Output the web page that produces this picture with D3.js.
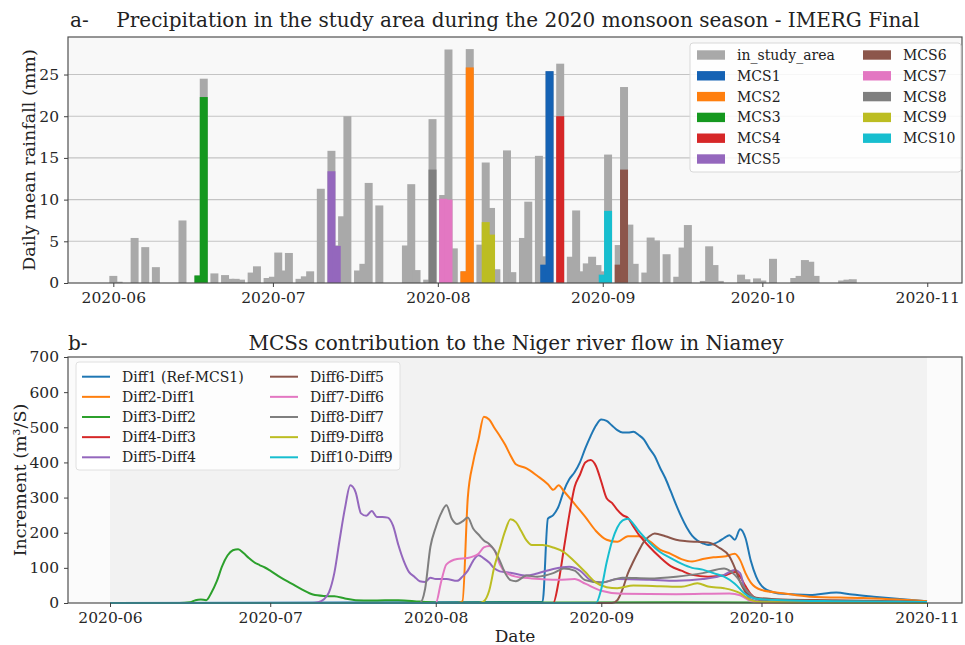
<!DOCTYPE html>
<html>
<meta charset="utf-8" />
<script src="https://d3js.org/d3.v7.min.js"></script>
<body style="margin:0;background:#fff">
<div id="chart"></div>
<script>
// daily mean rainfall in the study area (mm), one value per day from the 1st of the month
var junRain = [0.85, 0.15, 0, 0, 5.4, 0, 4.3, 0, 1.9, 0, 0, 0, 0, 7.5, 0, 0, 0.9, 24.5, 0, 1.15,
               0, 0.95, 0.5, 0.5, 0.4, 0, 1.25, 2.0, 0, 0.6];
var julRain = [0.75, 3.65, 1.5, 3.6, 0, 0.5, 0.8, 1.4, 0, 11.3, 0, 15.85, 4.5, 8.0, 20.0, 0, 1.5, 2.3, 12.0, 0,
               9.3, 0, 0, 0, 0, 4.5, 11.85, 1.55, 0, 0.4, 19.65];
var augRain = [0, 10.55, 28.0, 4.15, 0, 1.4, 28.05, 0, 4.6, 14.45, 9.0, 1.65, 0, 15.9, 1.3, 0, 5.4, 9.75, 0, 15.25,
               3.2, 25.4, 0, 26.3, 0, 3.15, 8.7, 1.4, 2.35, 3.15, 2.15];
var sepRain = [1.4, 15.4, 0, 4.55, 23.5, 7.0, 2.3, 0, 1.25, 5.45, 5.1, 0, 3.45, 0, 0.75, 4.25, 6.95, 0, 0, 0.25,
               4.4, 2.15, 0.25, 0, 0, 0, 1.0, 0.45, 0, 0.55];
var octRain = [0.3, 0, 2.9, 0, 0, 0, 0.6, 0.85, 2.75, 2.55, 0.85, 0, 0, 0, 0, 0.3, 0.4, 0.45, 0, 0,
               0, 0, 0, 0, 0, 0, 0, 0, 0, 0, 0];

// rainfall of each MCS (mm)
var mcs1Rain = [["08-21", 2.2], ["08-22", 25.4]];
var mcs2Rain = [["08-06", 1.4], ["08-07", 25.85]];
var mcs3Rain = [["06-17", 0.9], ["06-18", 22.3]];
var mcs4Rain = [["08-24", 20.0]];
var mcs5Rain = [["07-12", 13.4], ["07-13", 4.45]];
var mcs6Rain = [["09-04", 2.2], ["09-05", 13.6]];
var mcs7Rain = [["08-02", 10.1], ["08-03", 10.0]];
var mcs8Rain = [["07-31", 13.6]];
var mcs9Rain = [["08-10", 7.3], ["08-11", 5.8]];
var mcs10Rain = [["09-01", 1.0], ["09-02", 8.65]];
var mcsNames = ["MCS1", "MCS2", "MCS3", "MCS4", "MCS5", "MCS6", "MCS7", "MCS8", "MCS9", "MCS10"];

// river flow increments at Niamey (m3/s)
var diff1Flow = [["06-01",0],["08-21",3],["08-22",240],["08-23",250],["08-24",275],["08-25",320],["08-26",352],["08-27",372],
  ["08-28",400],["08-29",440],["08-30",475],["08-31",505],["09-01",522],["09-02",518],["09-03",505],["09-04",492],["09-05",485],
  ["09-06",485],["09-07",487],["09-08",478],["09-09",465],["09-10",440],["09-11",418],["09-12",385],["09-13",355],["09-14",318],
  ["09-15",280],["09-16",245],["09-17",215],["09-18",192],["09-19",178],["09-20",170],["09-21",165],["09-22",168],["09-23",175],
  ["09-24",185],["09-25",193],["09-26",180],["09-27",210],["09-28",185],["09-29",120],["09-30",75],["10-02",37],["10-05",26],
  ["10-10",23],["10-15",30],["10-18",24],["10-22",18],["10-28",10],["11-01",5]];
var diff2Flow = [["06-01",0],["08-05",0],["08-06",5],["08-07",300],["08-08",400],["08-09",465],["08-10",530],["08-11",522],
  ["08-12",498],["08-13",475],["08-14",450],["08-15",420],["08-16",395],["08-18",383],["08-20",362],["08-22",338],["08-23",322],
  ["08-24",335],["08-25",318],["08-27",282],["08-29",245],["08-31",205],["09-02",180],["09-04",174],["09-06",190],["09-08",190],
  ["09-10",176],["09-12",152],["09-14",140],["09-16",125],["09-18",118],["09-20",125],["09-22",130],["09-24",132],["09-26",140],
  ["09-27",122],["09-28",85],["09-29",58],["10-01",37],["10-05",28],["10-10",18],["10-20",14],["11-01",5]];
var diff3Flow = [["06-01",0],["06-14",0],["06-16",2],["06-17",8],["06-18",10],["06-19",8],["06-20",30],["06-21",62],["06-22",105],
  ["06-23",135],["06-24",150],["06-25",153],["06-26",142],["06-27",128],["06-28",116],["06-29",108],["06-30",101],["07-01",92],
  ["07-03",72],["07-05",55],["07-07",38],["07-09",24],["07-11",20],["07-13",19],["07-15",13],["07-17",8],["07-20",7],["07-25",8],
  ["07-29",4],["08-02",1],["09-15",2],["11-01",1]];
var diff4Flow = [["06-01",0],["08-23",0],["08-24",60],["08-25",155],["08-26",250],["08-27",330],["08-28",365],["08-29",400],
  ["08-30",407],["08-31",390],["09-01",345],["09-02",298],["09-03",285],["09-04",265],["09-05",250],["09-06",242],["09-07",218],
  ["09-08",195],["09-09",177],["09-10",160],["09-12",130],["09-14",105],["09-16",92],["09-18",80],["09-21",75],["09-24",78],
  ["09-26",88],["09-27",75],["09-28",48],["09-29",25],["10-01",8],["10-05",2],["11-01",1]];
var diff5Flow = [["06-01",0],["07-09",0],["07-10",2],["07-11",10],["07-12",30],["07-13",85],["07-14",180],["07-15",270],
  ["07-16",335],["07-17",315],["07-18",255],["07-19",248],["07-20",262],["07-21",245],["07-22",245],["07-23",243],["07-24",220],
  ["07-25",165],["07-26",120],["07-27",88],["07-28",75],["07-29",62],["07-30",60],["07-31",72],["08-01",68],["08-03",68],
  ["08-05",63],["08-06",75],["08-07",92],["08-08",120],["08-09",136],["08-10",127],["08-11",115],["08-12",98],["08-13",90],
  ["08-15",86],["08-18",78],["08-20",84],["08-23",97],["08-26",103],["08-28",92],["08-30",65],["09-01",58],["09-04",68],
  ["09-10",66],["09-15",63],["09-20",68],["09-24",80],["09-26",94],["09-27",85],["09-28",30],["09-29",10],["10-01",3],
  ["10-05",1],["11-01",0]];
var diff6Flow = [["06-01",0],["09-03",0],["09-04",8],["09-05",40],["09-06",85],["09-07",118],["09-08",148],["09-09",175],
  ["09-10",190],["09-11",198],["09-13",190],["09-15",180],["09-17",176],["09-19",174],["09-21",172],["09-23",158],["09-25",132],
  ["09-26",100],["09-27",60],["09-28",32],["09-30",15],["10-05",10],["10-15",8],["11-01",3]];
var diff7Flow = [["06-01",0],["08-01",0],["08-02",60],["08-03",110],["08-05",125],["08-07",128],["08-09",140],["08-10",158],
  ["08-11",162],["08-12",150],["08-13",110],["08-14",88],["08-16",75],["08-19",70],["08-24",66],["08-27",68],["08-29",55],
  ["09-01",35],["09-05",26],["09-15",25],["09-25",27],["09-27",22],["09-29",5],["10-01",0],["11-01",0]];
var diff8Flow = [["06-01",0],["07-29",0],["07-30",40],["07-31",160],["08-01",215],["08-02",255],["08-03",278],["08-04",240],
  ["08-05",225],["08-06",232],["08-07",243],["08-08",212],["08-09",195],["08-10",178],["08-11",168],["08-12",150],["08-13",120],
  ["08-14",85],["08-15",65],["08-16",62],["08-18",78],["08-20",75],["08-23",85],["08-25",98],["08-27",92],["08-29",65],
  ["09-01",58],["09-05",72],["09-10",70],["09-15",75],["09-20",85],["09-24",98],["09-26",80],["09-28",40],["09-30",12],
  ["10-03",3],["10-10",0],["11-01",0]];
var diff9Flow = [["06-01",0],["08-09",0],["08-10",5],["08-11",35],["08-12",105],["08-13",155],["08-14",205],["08-15",238],
  ["08-16",230],["08-17",205],["08-18",178],["08-19",165],["08-21",165],["08-23",158],["08-25",145],["08-27",118],["08-29",88],
  ["08-31",58],["09-02",45],["09-04",42],["09-07",50],["09-12",48],["09-16",46],["09-19",56],["09-21",47],["09-24",42],
  ["09-27",28],["09-29",8],["10-01",2],["11-01",0]];
var diff10Flow = [["06-01",0],["08-31",0],["09-01",40],["09-02",115],["09-03",175],["09-04",215],["09-05",235],["09-06",240],
  ["09-07",225],["09-08",205],["09-09",188],["09-10",172],["09-12",145],["09-14",128],["09-16",112],["09-18",100],["09-20",95],
  ["09-22",85],["09-24",75],["09-26",55],["09-28",25],["09-30",12],["10-05",8],["10-15",5],["11-01",3]];
var diffNames = ["Diff1 (Ref-MCS1)", "Diff2-Diff1", "Diff3-Diff2", "Diff4-Diff3", "Diff5-Diff4",
                 "Diff6-Diff5", "Diff7-Diff6", "Diff8-Diff7", "Diff9-Diff8", "Diff10-Diff9"];

var monthTicks = ["2020-06-01", "2020-07-01", "2020-08-01", "2020-09-01", "2020-10-01", "2020-11-01"];
var rainTicks = [0, 5, 10, 15, 20, 25];
var flowTicks = [0, 100, 200, 300, 400, 500, 600, 700];

var barColors = ["#1562b4", "#ff7f0e", "#15981f", "#d62728", "#9467bd", "#8c564b", "#e377c2", "#7f7f7f", "#bcbd22", "#17becf"];
var lineColors = ["#1f77b4", "#ff7f0e", "#2ca02c", "#d62728", "#9467bd", "#8c564b", "#e377c2", "#7f7f7f", "#bcbd22", "#17becf"];
var FONT = "DejaVu Serif";

var parse = d3.utcParse("%Y-%m-%d");
function md(s) { return parse("2020-" + s); }
var june1 = Date.UTC(2020, 5, 1);
function dayOff(n) { return new Date(june1 + n * 864e5); }

var svg = d3.select("#chart").append("svg")
  .attr("width", 965).attr("height", 645)
  .style("font-family", FONT);

// ---------- panel a ----------
var A = {left: 68, right: 962, top: 37, bottom: 283};
var xa = d3.scaleUtc().domain([dayOff(-8.52), dayOff(159.53)]).range([A.left, A.right]);
var ya = d3.scaleLinear().domain([0, 29.5]).range([A.bottom, A.top]);

svg.append("rect").attr("x", A.left).attr("y", A.top)
  .attr("width", A.right - A.left).attr("height", A.bottom - A.top).attr("fill", "#f8f8f8");

svg.append("g").selectAll("line").data(rainTicks.slice(1)).enter().append("line")
  .attr("x1", A.left).attr("x2", A.right)
  .attr("y1", function(d) { return ya(d); }).attr("y2", function(d) { return ya(d); })
  .attr("stroke", "#c4c4c4").attr("stroke-width", 1.1);

var rain = [];
[junRain, julRain, augRain, sepRain, octRain].forEach(function(arr, m) {
  arr.forEach(function(v, i) { rain.push({date: new Date(Date.UTC(2020, 5 + m, i + 1)), value: v}); });
});
var halfDay = 0.75 * 864e5;
function barX(d) { return xa(new Date(+d.date - halfDay)); }
function barW(d) { return xa(new Date(+d.date + halfDay)) - xa(new Date(+d.date - halfDay)); }

svg.append("g").selectAll("rect").data(rain.filter(function(d) { return d.value > 0; })).enter().append("rect")
  .attr("x", barX).attr("width", barW)
  .attr("y", function(d) { return ya(d.value); })
  .attr("height", function(d) { return ya(0) - ya(d.value); })
  .attr("fill", "#a9a9a9");

var mcsRain = [mcs1Rain, mcs2Rain, mcs3Rain, mcs4Rain, mcs5Rain, mcs6Rain, mcs7Rain, mcs8Rain, mcs9Rain, mcs10Rain];
mcsRain.forEach(function(arr, k) {
  var pts = arr.map(function(p) { return {date: md(p[0]), value: p[1]}; });
  svg.append("g").selectAll("rect").data(pts).enter().append("rect")
    .attr("x", barX).attr("width", barW)
    .attr("y", function(d) { return ya(d.value); })
    .attr("height", function(d) { return ya(0) - ya(d.value); })
    .attr("fill", barColors[k]);
});

svg.append("rect").attr("x", A.left).attr("y", A.top)
  .attr("width", A.right - A.left).attr("height", A.bottom - A.top)
  .attr("fill", "none").attr("stroke", "#505050").attr("stroke-width", 1.2);

function styleAxis(g) {
  g.select(".domain").remove();
  g.selectAll(".tick line").attr("stroke", "#404040");
  g.selectAll("text").attr("fill", "#262626").style("font-family", FONT).style("font-size", "15.5px");
}

svg.append("g").attr("transform", "translate(0," + A.bottom + ")")
  .call(d3.axisBottom(xa).tickValues(monthTicks.map(function(s) { return parse(s); }))
    .tickFormat(d3.utcFormat("%Y-%m")).tickSize(4).tickPadding(5))
  .call(styleAxis);
svg.append("g").attr("transform", "translate(" + A.left + ",0)")
  .call(d3.axisLeft(ya).tickValues(rainTicks).tickSize(4).tickPadding(5))
  .call(styleAxis);

svg.append("text").attr("x", A.left + 2).attr("y", 27).attr("font-size", 20).attr("fill", "#222").text("a-");
svg.append("text").attr("x", (A.left + A.right) / 2 + 3).attr("y", 27).attr("text-anchor", "middle")
  .attr("font-size", 20).attr("fill", "#222")
  .text("Precipitation in the study area during the 2020 monsoon season - IMERG Final");
svg.append("text").attr("transform", "translate(35," + ((A.top + A.bottom) / 2) + ") rotate(-90)")
  .attr("text-anchor", "middle").attr("font-size", 17.5).attr("fill", "#222")
  .text("Daily mean rainfall (mm)");

// legend a
var la = svg.append("g");
la.append("rect").attr("x", 690).attr("y", 43).attr("width", 271).attr("height", 129).attr("rx", 3)
  .attr("fill", "#fff").attr("fill-opacity", 0.85).attr("stroke", "#d8d8d8");
var legA = [{name: "in_study_area", color: "#a9a9a9"}].concat(mcsNames.map(function(n, i) { return {name: n, color: barColors[i]}; }));
legA.forEach(function(e, i) {
  var col = i < 6 ? 0 : 1, row = i < 6 ? i : i - 6;
  var px = col ? 863 : 697, py = 55 + row * 20.8;
  la.append("rect").attr("x", px).attr("y", py - 4.7).attr("width", 28).attr("height", 9.4).attr("fill", e.color);
  la.append("text").attr("x", px + 40).attr("y", py + 5).attr("font-size", 14).attr("fill", "#222").text(e.name);
});

// ---------- panel b ----------
var B = {left: 68, right: 962, top: 357, bottom: 603};
var xb = d3.scaleUtc().domain([dayOff(-7.87), dayOff(159.55)]).range([B.left, B.right]);
var yb = d3.scaleLinear().domain([0, 700]).range([B.bottom, B.top]);

svg.append("rect").attr("x", B.left).attr("y", B.top)
  .attr("width", B.right - B.left).attr("height", B.bottom - B.top).attr("fill", "#fbfbfb");
svg.append("rect").attr("x", xb(parse(monthTicks[0]))).attr("y", B.top)
  .attr("width", xb(parse(monthTicks[5])) - xb(parse(monthTicks[0]))).attr("height", B.bottom - B.top)
  .attr("fill", "#f2f2f2");

var flows = [diff1Flow, diff2Flow, diff3Flow, diff4Flow, diff5Flow, diff6Flow, diff7Flow, diff8Flow, diff9Flow, diff10Flow];
var line = d3.line()
  .x(function(p) { return xb(md(p[0])); })
  .y(function(p) { return yb(p[1]); })
  .curve(d3.curveMonotoneX);
flows.forEach(function(arr, k) {
  svg.append("path").datum(arr).attr("d", line)
    .attr("fill", "none").attr("stroke", lineColors[k]).attr("stroke-width", 2)
    .attr("stroke-linejoin", "round");
});

svg.append("rect").attr("x", B.left).attr("y", B.top)
  .attr("width", B.right - B.left).attr("height", B.bottom - B.top)
  .attr("fill", "none").attr("stroke", "#505050").attr("stroke-width", 1.2);

svg.append("g").attr("transform", "translate(0," + B.bottom + ")")
  .call(d3.axisBottom(xb).tickValues(monthTicks.map(function(s) { return parse(s); }))
    .tickFormat(d3.utcFormat("%Y-%m")).tickSize(4).tickPadding(5))
  .call(styleAxis);
svg.append("g").attr("transform", "translate(" + B.left + ",0)")
  .call(d3.axisLeft(yb).tickValues(flowTicks).tickSize(4).tickPadding(5))
  .call(styleAxis);

svg.append("text").attr("x", B.left).attr("y", 350).attr("font-size", 20).attr("fill", "#222").text("b-");
svg.append("text").attr("x", (B.left + B.right) / 2 + 1).attr("y", 350).attr("text-anchor", "middle")
  .attr("font-size", 20).attr("fill", "#222")
  .text("MCSs contribution to the Niger river flow in Niamey");
svg.append("text").attr("transform", "translate(26," + ((B.top + B.bottom) / 2) + ") rotate(-90)")
  .attr("text-anchor", "middle").attr("font-size", 17.5).attr("fill", "#222")
  .text("Increment (m³/S)");
svg.append("text").attr("x", (B.left + B.right) / 2).attr("y", 642).attr("text-anchor", "middle")
  .attr("font-size", 17).attr("fill", "#222").text("Date");

// legend b
var lb = svg.append("g");
lb.append("rect").attr("x", 76).attr("y", 362).attr("width", 324).attr("height", 108).attr("rx", 3)
  .attr("fill", "#fff").attr("fill-opacity", 0.85).attr("stroke", "#e0e0e0");
diffNames.forEach(function(n, i) {
  var col = i < 5 ? 0 : 1, row = i % 5;
  var px = col ? 270 : 82, py = 376.7 + row * 20.15;
  lb.append("line").attr("x1", px).attr("x2", px + 28).attr("y1", py).attr("y2", py)
    .attr("stroke", lineColors[i]).attr("stroke-width", 2);
  lb.append("text").attr("x", px + 40).attr("y", py + 5).attr("font-size", 14).attr("fill", "#222").text(n);
});
</script>
</body>
</html>
